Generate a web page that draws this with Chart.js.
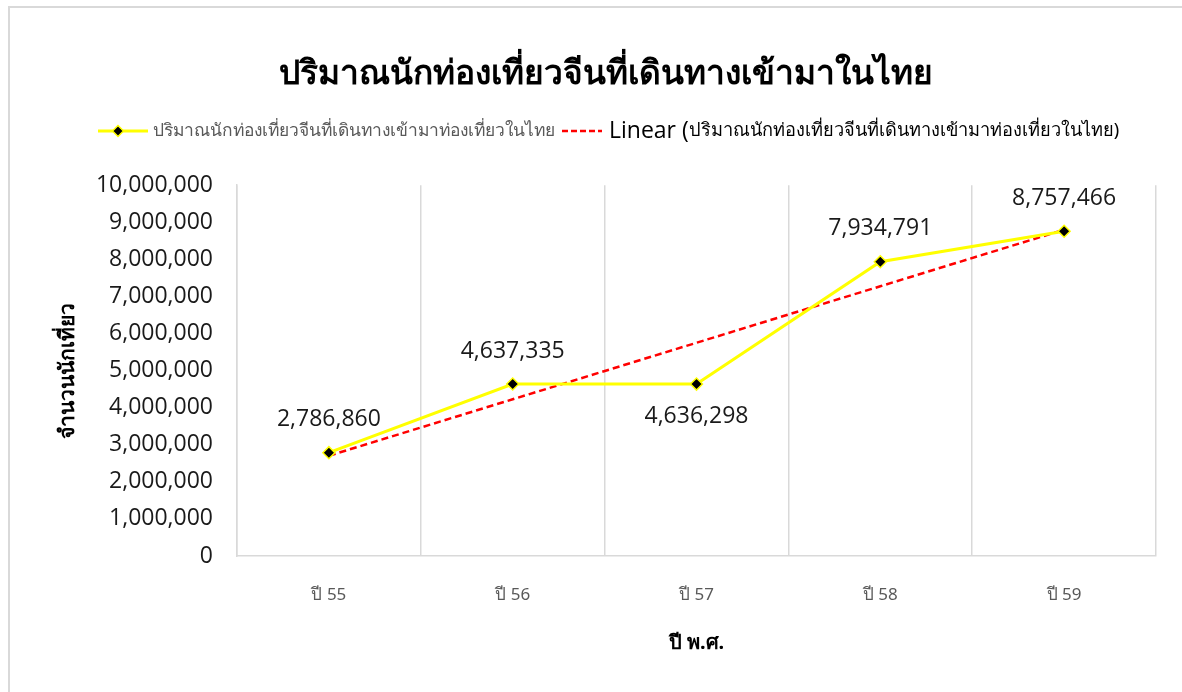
<!DOCTYPE html>
<html>
<head>
<meta charset="utf-8">
<script src="https://cdn.jsdelivr.net/npm/chart.js@4.4.0/dist/chart.umd.min.js"></script>
<style>
  html, body { margin: 0; padding: 0; background: #fff; }
  #wrap { position: absolute; left: 0; top: 0; width: 1182px; height: 692px; overflow: hidden; }
  #frame { position: absolute; left: 8px; top: 6px; width: 1200px; height: 720px; border: 2px solid #d9d9d9; box-sizing: border-box; }
  canvas { position: absolute; left: 0; top: 0; }
</style>
</head>
<body>
<div id="wrap">
  <div id="frame"></div>
  <canvas id="c" width="1182" height="692"></canvas>
</div>
<script>
const chartTitle = 'ปริมาณนักท่องเที่ยวจีนที่เดินทางเข้ามาในไทย';
const seriesName = 'ปริมาณนักท่องเที่ยวจีนที่เดินทางเข้ามาท่องเที่ยวในไทย';
const categories = ['ปี 55', 'ปี 56', 'ปี 57', 'ปี 58', 'ปี 59'];
const tourists = [2786860, 4637335, 4636298, 7934791, 8757466];
const labelBelow = [false, false, true, false, false];
const yTitle = 'จำนวนนักเที่ยว';
const xTitle = 'ปี พ.ศ.';

// least-squares linear trendline (as Excel's "Linear" trendline)
const n = tourists.length;
const xs = tourists.map((_, i) => i + 1);
const mx = xs.reduce((a, b) => a + b, 0) / n;
const my = tourists.reduce((a, b) => a + b, 0) / n;
let sxy = 0, sxx = 0;
for (let i = 0; i < n; i++) { sxy += (xs[i] - mx) * (tourists[i] - my); sxx += (xs[i] - mx) ** 2; }
const slope = sxy / sxx;
const trend = xs.map(x => my + slope * (x - mx));

const thaiFont = "'Noto Sans', 'DejaVu Sans', sans-serif";
const numFont = "'Open Sans', 'Noto Sans', sans-serif";
const fmt = v => v.toLocaleString('en-US');

const dataLabels = {
  id: 'dataLabels',
  afterDatasetsDraw(chart) {
    const ctx = chart.ctx;
    const meta = chart.getDatasetMeta(0);
    ctx.save();
    ctx.font = "23px " + numFont;
    ctx.fillStyle = '#1a1a1a';
    ctx.textAlign = 'center';
    ctx.textBaseline = 'middle';
    meta.data.forEach((pt, i) => {
      const dy = labelBelow[i] ? 32 : -33;
      ctx.fillText(fmt(tourists[i]), pt.x, pt.y + dy);
    });
    ctx.restore();
  }
};

const customLegend = {
  id: 'customLegend',
  afterDraw(chart) {
    const ctx = chart.ctx;
    const y = 131;
    ctx.save();
    let x = 98;
    // series 1 swatch
    ctx.strokeStyle = '#ffff00';
    ctx.lineWidth = 3;
    ctx.beginPath(); ctx.moveTo(x, y); ctx.lineTo(x + 50, y); ctx.stroke();
    const dx = x + 20;
    ctx.fillStyle = '#000';
    ctx.strokeStyle = '#ffff00';
    ctx.lineWidth = 1.5;
    ctx.beginPath();
    ctx.moveTo(dx, y - 5.5); ctx.lineTo(dx + 5.5, y); ctx.lineTo(dx, y + 5.5); ctx.lineTo(dx - 5.5, y); ctx.closePath();
    ctx.fill(); ctx.stroke();
    x += 55;
    ctx.textBaseline = 'middle';
    ctx.textAlign = 'left';
    ctx.fillStyle = '#595959';
    ctx.font = "17.4px " + thaiFont;
    ctx.fillText(seriesName, x, y);
    x += ctx.measureText(seriesName).width + 7;
    // trendline swatch
    ctx.strokeStyle = '#ff0000';
    ctx.lineWidth = 2.5;
    ctx.setLineDash([6, 3]);
    ctx.beginPath(); ctx.moveTo(x, y); ctx.lineTo(x + 40, y); ctx.stroke();
    ctx.setLineDash([]);
    x += 47;
    ctx.fillStyle = '#000';
    ctx.font = "23px " + numFont;
    const t1 = 'Linear (';
    ctx.fillText(t1, x, y);
    x += ctx.measureText(t1).width;
    ctx.font = "18.2px " + thaiFont;
    ctx.fillText(seriesName + ')', x, y);
    ctx.restore();
  }
};

new Chart(document.getElementById('c'), {
  type: 'line',
  data: {
    labels: categories,
    datasets: [
      {
        label: seriesName,
        data: tourists,
        borderColor: '#ffff00',
        borderWidth: 3,
        pointStyle: 'rectRot',
        pointRadius: 6,
        pointBackgroundColor: '#000000',
        pointBorderColor: '#ffff00',
        pointBorderWidth: 1.5,
        tension: 0,
        order: 1
      },
      {
        label: 'Linear (' + seriesName + ')',
        data: trend,
        borderColor: '#ff0000',
        borderWidth: 2.5,
        borderDash: [7, 4],
        pointRadius: 0,
        tension: 0,
        order: 2
      }
    ]
  },
  options: {
    responsive: false,
    devicePixelRatio: 1,
    animation: false,
    layout: { padding: { left: 55, right: 26, top: 0, bottom: 0 } },
    plugins: {
      legend: { display: false },
      tooltip: { enabled: false },
      title: {
        display: true,
        text: chartTitle,
        color: '#000',
        font: { family: thaiFont, size: 33.5, weight: 'bold' },
        padding: { top: 54, bottom: 91 }
      }
    },
    scales: {
      x: {
        offset: true,
        grid: { display: true, offset: true, color: '#d9d9d9', lineWidth: 1.5, drawTicks: false },
        border: { display: true, color: '#d9d9d9', width: 1.5 },
        ticks: { color: '#595959', font: { family: thaiFont, size: 17 }, padding: 29 },
        title: { display: true, text: xTitle, color: '#000', font: { family: thaiFont, size: 20, weight: 'bold' }, padding: { top: 0, bottom: 37 } },
        afterFit(s) { s.height = 136; }
      },
      y: {
        min: 0, max: 10000000,
        grid: { display: false, drawTicks: false },
        border: { display: true, color: '#d9d9d9', width: 1.5 },
        ticks: { stepSize: 1000000, color: '#1a1a1a', font: { family: numFont, size: 23 }, padding: 24, callback: v => fmt(v) },
        title: { display: true, text: yTitle, color: '#000', font: { family: thaiFont, size: 21, weight: 'bold' }, padding: { top: 0, bottom: 0 } },
        afterFit(s) { s.width = 182; }
      }
    }
  },
  plugins: [dataLabels, customLegend]
});
</script>
</body>
</html>
